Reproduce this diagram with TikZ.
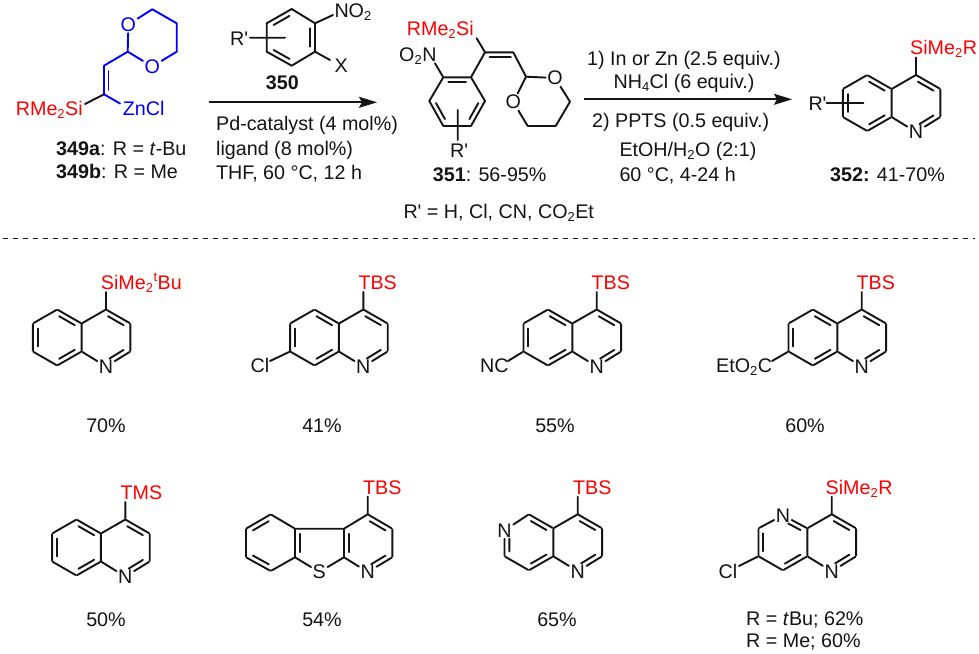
\documentclass[tikz,border=0pt]{standalone}
\usepackage{fontspec}
\setmainfont{Liberation Sans}
\usetikzlibrary{calc,arrows.meta}
\definecolor{sired}{RGB}{255,0,0}
\definecolor{mblue}{RGB}{0,0,255}
\definecolor{ink}{RGB}{20,20,20}
\tikzset{
  bond/.style={line width=1.9pt,line cap=round,ink},
  bluebond/.style={bond,mblue},
  rxn/.style={-{Stealth[length=18pt,width=11pt,inset=3pt]},line width=1.8pt,ink},
  atom/.style={inner sep=1.5pt,font=\fontsize{19.7}{22}\selectfont,text=ink},
  batom/.style={atom,text=mblue},
  txt/.style={inner sep=0pt,anchor=base west,font=\fontsize{19.7}{22}\selectfont,text=ink},
  ctxt/.style={txt,anchor=base},
  rtxt/.style={txt,text=sired}
}
\newcommand{\sub}[1]{$_{\mbox{\fontsize{13}{13}\selectfont #1}}$}
\newcommand{\prm}{\textquotesingle}
% inner line of a ring double bond: #1,#2 atoms, #3 ring centre
\newcommand{\dbond}[4][bond]{\draw[#1] ($(#2)!.2!(#4)!.1!($(#3)!.2!(#4)$)$) -- ($(#3)!.2!(#4)!.1!($(#2)!.2!(#4)$)$);}
% fused pyridine: prefix, x, y of C4, labels at ring positions 5 and 6
\newcommand{\fused}[5]{%
  \node[atom,inner sep=0pt] (#1a) at (#2,#3) {};
  \node[atom,inner sep=0pt] (#1b) at (#2+24.4,#3+14) {};
  \node[atom,inner sep=0pt] (#1c) at (#2+24.4,#3+42) {};
  \node[atom] (#1n) at (#2,#3+57) {N};
  \node[atom,inner sep=0pt] (#1d) at (#2-24.4,#3+42) {};
  \node[atom,inner sep=0pt] (#1e) at (#2-24.4,#3+14) {};
  \coordinate (#1m) at (#2,#3+28);
  \coordinate (#1t) at (#2,#3-17.5);
  \draw[bond] (#1a) -- (#1b) (#1b) -- (#1c) (#1c) -- (#1n) (#1n) -- (#1d) (#1d) -- (#1e) (#1e) -- (#1a) (#1a) -- (#1t);
  \dbond{#1a}{#1b}{#1m}
  \draw[bond,shorten <=4pt] ($(#1n)!.2!(#1m)$) -- ($(#1c)!.2!(#1m)!.1!($(#1n)!.2!(#1m)$)$);
  \ifx\relax#4\relax\node[atom,inner sep=0pt] (#1f) at (#2-48.8,#3) {};\else\node[atom] (#1f) at (#2-48.8,#3+1) {#4};\fi
  \ifx\relax#5\relax\node[atom,inner sep=0pt] (#1g) at (#2-73.2,#3+14) {};\else\node[atom] (#1g) at (#2-73.2,#3+16) {#5};\fi
  \node[atom,inner sep=0pt] (#1h) at (#2-73.2,#3+42) {};
  \node[atom,inner sep=0pt] (#1i) at (#2-48.8,#3+56) {};
  \coordinate (#1k) at (#2-48.8,#3+28);
  \draw[bond] (#1e) -- (#1f) (#1f) -- (#1g) (#1g) -- (#1h) (#1h) -- (#1i) (#1i) -- (#1d);
  \ifx\relax#4\relax\dbond{#1f}{#1e}{#1k}\else\draw[bond,shorten <=6pt] ($(#1f)!.2!(#1k)$) -- ($(#1e)!.2!(#1k)!.1!($(#1f)!.2!(#1k)$)$);\fi
  \ifx\relax#5\relax\dbond{#1g}{#1h}{#1k}\else\draw[bond,shorten <=6pt] ($(#1g)!.2!(#1k)$) -- ($(#1h)!.2!(#1k)!.1!($(#1g)!.2!(#1k)$)$);\fi
  \dbond{#1i}{#1d}{#1k}
}
\begin{document}
\begin{tikzpicture}[x=1pt,y=-1pt]
\useasboundingbox (0,0) rectangle (979,653);
\fill[white] (0,0) rectangle (979,653);
%% ---- 349
\node[rtxt] (s349) at (15.7,115) {RMe\sub{2}Si};
\node[txt,text=mblue] (zn) at (122.7,115) {ZnCl};
\coordinate (a1) at (104,94.3);
\coordinate (a2) at (104,65.7);
\coordinate (a3) at (127.7,51.7);
\node[batom] (ao1) at (152.3,66.5) {O};
\coordinate (a4) at (176.7,51.7);
\coordinate (a5) at (176.7,23.3);
\coordinate (a6) at (152.3,9.3);
\node[batom] (ao2) at (128.3,24.5) {O};
\coordinate (asi) at (85,104);
\coordinate (azn) at (120,103.5);
\draw[bond] (a1) -- (asi);
\draw[bluebond] (a1) -- (azn);
\draw[bluebond] (a1) -- (a2) (a2) -- (a3) (a3) -- (ao1) (ao1) -- (a4) (a4) -- (a5) (a5) -- (a6) (a6) -- (ao2) (ao2) -- (a3);
\draw[bluebond] (108.5,71) -- (108.5,90);
\node[txt] (l349a) at (56,155) {\textbf{349a}: R = \textit{t}-Bu};
\node[txt] (l349b) at (56,178.3) {\textbf{349b}: R = Me};
%% ---- 350
\coordinate (b1) at (315,23.3);
\coordinate (b2) at (291.7,9);
\coordinate (b3) at (266.7,23.3);
\coordinate (b4) at (266.7,51.7);
\coordinate (b5) at (291.7,65.7);
\coordinate (b6) at (315,51.7);
\coordinate (bc) at (291,37.5);
\draw[bond] (b1) -- (b2) (b2) -- (b3) (b3) -- (b4) (b4) -- (b5) (b5) -- (b6) (b6) -- (b1);
\dbond{b2}{b3}{bc}\dbond{b4}{b5}{bc}\dbond{b6}{b1}{bc}
\node[txt] (no2) at (334.3,17) {NO\sub{2}};
\node[txt] (xl) at (334.5,72.7) {X};
\node[txt] (rp1) at (230,45) {R\prm};
\coordinate (bno) at (333,15);
\coordinate (bx) at (330,60);
\coordinate (br1) at (250,37.7);
\coordinate (br2) at (285,37.7);
\draw[bond] (b1) -- (bno) (b6) -- (bx) (br1) -- (br2);
\node[ctxt] (l350) at (282.3,89.3) {\textbf{350}};
\coordinate (ar1s) at (209.3,102.3);
\coordinate (ar1e) at (377,102.3);
\draw[rxn] (ar1s) -- (ar1e);
\node[txt] (c1) at (216,130) {Pd-catalyst (4 mol\%)};
\node[txt] (c2) at (216,155) {ligand (8 mol\%)};
\node[txt] (c3) at (216,179) {THF, 60 °C, 12 h};
%% ---- 351
\node[rtxt] (s351) at (406.7,35) {RMe\sub{2}Si};
\node[txt] (n351) at (399,61) {O\sub{2}N};
\coordinate (c1a) at (485,52.3);
\coordinate (c1b) at (513.3,52.3);
\coordinate (c1c) at (526,76.7);
\node[atom] (co1) at (555,78) {O};
\coordinate (c1d) at (570,101.7);
\coordinate (c1e) at (555.7,126);
\coordinate (c1f) at (527.7,126);
\node[atom] (co2) at (513.3,102) {O};
\coordinate (csi) at (476.7,38.3);
\draw[bond] (csi) -- (c1a) (c1a) -- (c1b) (c1b) -- (c1c) (c1c) -- (co1) (co1) -- (c1d) (c1d) -- (c1e) (c1e) -- (c1f) (c1f) -- (co2) (co2) -- (c1c);
\draw[bond] (489.5,57.3) -- (511,57.3);
\coordinate (d1) at (471,77.3);
\coordinate (d2) at (443.3,77.3);
\coordinate (d3) at (429.3,101);
\coordinate (d4) at (443.3,126);
\coordinate (d5) at (471,126);
\coordinate (d6) at (485,101);
\coordinate (dc) at (457.2,101.5);
\coordinate (dno) at (435,63.3);
\coordinate (dr1) at (457.7,110);
\coordinate (dr2) at (457.7,140);
\draw[bond] (d1) -- (d2) (d2) -- (d3) (d3) -- (d4) (d4) -- (d5) (d5) -- (d6) (d6) -- (d1) (d1) -- (c1a) (d2) -- (dno) (dr1) -- (dr2);
\dbond{d2}{d1}{dc}\dbond{d3}{d4}{dc}\dbond{d6}{d5}{dc}
\node[txt] (rp2) at (450,157.3) {R\prm};
\node[txt] (l351) at (432.7,181.7) {\textbf{351}: 56-95\%};
\node[txt] (rdef) at (403.3,218.3) {R\prm{} = H, Cl, CN, CO\sub{2}Et};
%% ---- arrow 2
\coordinate (ar2s) at (584,99.3);
\coordinate (ar2e) at (792,99.3);
\draw[rxn] (ar2s) -- (ar2e);
\node[txt] (e1) at (587,65) {1) In or Zn (2.5 equiv.)};
\node[ctxt] (e2) at (684,88.3) {NH\sub{4}Cl (6 equiv.)};
\node[txt] (e3) at (592,127.3) {2) PPTS (0.5 equiv.)};
\node[txt] (e4) at (619.3,156.7) {EtOH/H\sub{2}O (2:1)};
\node[txt] (e5) at (619.3,181.7) {60 °C, 4-24 h};
%% ---- 352
\fused{p}{916}{75}{}{}
\node[rtxt] (s352) at (910,54.3) {SiMe\sub{2}R};
\node[txt] (rp3) at (808.3,110) {R\prm};
\coordinate (pr1) at (826.7,103.3);
\coordinate (pr2) at (863.3,103.3);
\draw[bond] (pr1) -- (pr2);
\node[txt] (l352) at (830,181) {\textbf{352:} 41-70\%};
%% ---- dashed line
\coordinate (dl) at (2.7,238.3);
\coordinate (dr) at (975,238.3);
\draw[line width=1.5pt,ink,dash pattern=on 5.3pt off 4.7pt] (dl) -- (dr);
%% ---- row 1
\fused{q}{106}{309.5}{}{}
\node[rtxt] (q1l) at (100.7,289.3) {SiMe\sub{2}$^{\mbox{\fontsize{13}{13}\selectfont t}}$Bu};
\node[ctxt] (q1y) at (106,432) {70\%};
\fused{r}{363.3}{309.5}{}{}
\node[rtxt] (r1l) at (358.3,289.3) {TBS};
\node[txt] (rcl) at (250.5,372.5) {Cl};
\coordinate (rclb) at (270,361);
\draw[bond] (rh) -- (rclb);
\node[ctxt] (r1y) at (322,432) {41\%};
\fused{s}{596.7}{309.5}{}{}
\node[rtxt] (s1l) at (591.5,289.3) {TBS};
\node[txt] (scn) at (480,372.5) {NC};
\coordinate (scnb) at (508,361);
\draw[bond] (sh) -- (scnb);
\node[ctxt] (s1y) at (555,432) {55\%};
\fused{t}{861.7}{309.5}{}{}
\node[rtxt] (t1l) at (856.5,289.3) {TBS};
\node[txt] (tco) at (716,372.5) {EtO\sub{2}C};
\coordinate (tcob) at (772,361);
\draw[bond] (th) -- (tcob);
\node[ctxt] (t1y) at (805,432) {60\%};
%% ---- row 2
\fused{u}{125.3}{519.5}{}{}
\node[rtxt] (u1l) at (120.5,499.5) {TMS};
\node[ctxt] (u1y) at (106,626) {50\%};
% benzothieno[2,3-b]pyridine
\node[atom,inner sep=0pt] (v1) at (367.7,514.3) {};
\node[atom,inner sep=0pt] (v2) at (392.3,528.7) {};
\node[atom,inner sep=0pt] (v3) at (392.3,557.3) {};
\node[atom] (v4) at (367.7,572) {N};
\node[atom,inner sep=0pt] (v5) at (344,557.3) {};
\node[atom,inner sep=0pt] (v6) at (344,528.7) {};
\node[atom] (v7) at (319.3,572) {S};
\node[atom,inner sep=0pt] (v8) at (295,557.3) {};
\node[atom,inner sep=0pt] (v9) at (295,528.7) {};
\node[atom,inner sep=0pt] (v10) at (270.7,514.3) {};
\node[atom,inner sep=0pt] (v11) at (246,528.7) {};
\node[atom,inner sep=0pt] (v12) at (246,557.3) {};
\node[atom,inner sep=0pt] (v13) at (270.7,571) {};
\coordinate (vt) at (367.7,496.5);
\coordinate (vc1) at (368,543);
\coordinate (vc2) at (270.7,543);
\coordinate (vc3) at (319.5,543);
\draw[bond] (v1) -- (v2) (v2) -- (v3) (v3) -- (v4) (v4) -- (v5) (v5) -- (v6) (v6) -- (v1) (v5) -- (v7) (v7) -- (v8) (v8) -- (v9) (v9) -- (v6) (v9) -- (v10) (v10) -- (v11) (v11) -- (v12) (v12) -- (v13) (v13) -- (v8) (v1) -- (vt);
\dbond{v1}{v2}{vc1}\dbond{v10}{v11}{vc2}\dbond{v12}{v13}{vc2}
\dbond{v6}{v5}{vc1}\dbond{v9}{v8}{vc3}
\draw[bond,shorten <=4pt] ($(v4)!.2!(vc1)$) -- ($(v3)!.2!(vc1)!.1!($(v4)!.2!(vc1)$)$);
\node[rtxt] (v1l) at (363,494.5) {TBS};
\node[ctxt] (v1y) at (322,626) {54\%};
% 1,6-naphthyridine
\fused{w}{577.7}{514.3}{}{N}
\node[rtxt] (w1l) at (573,494.5) {TBS};
\node[ctxt] (w1y) at (557,626) {65\%};
% 1,5-naphthyridine
\fused{y}{831.7}{514.3}{N}{}
\node[rtxt] (y1l) at (825.5,494.5) {SiMe\sub{2}R};
\node[txt] (ycl) at (718.5,578) {Cl};
\coordinate (yclb) at (739,566);
\draw[bond] (yh) -- (yclb);
\node[txt] (y2y) at (746,625) {R = \textit{t}Bu; 62\%};
\node[txt] (y3y) at (746,647.7) {R = Me; 60\%};
\end{tikzpicture}
\end{document}
